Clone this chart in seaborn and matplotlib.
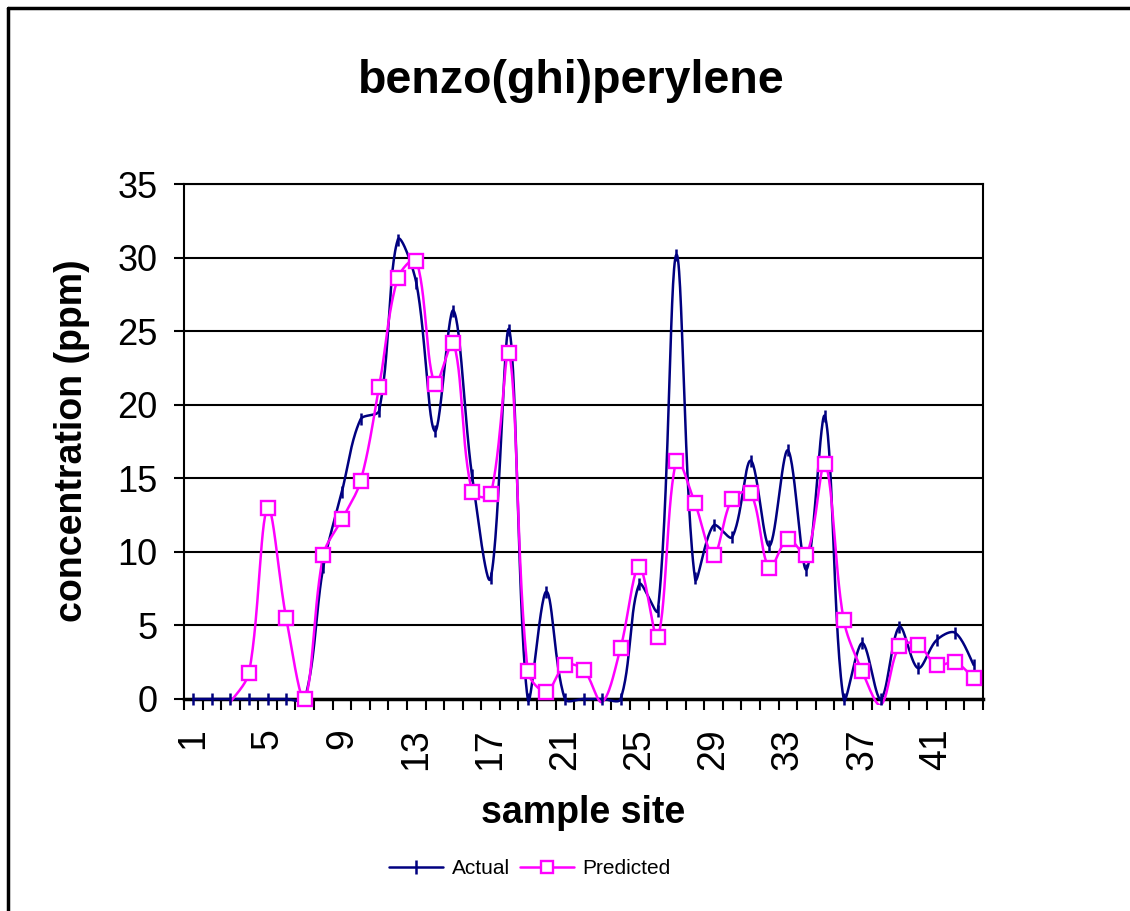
# Actual vs predicted benzo(ghi)perylene per sample site

import numpy as np
import matplotlib
matplotlib.use("Agg")
import matplotlib.pyplot as plt
from matplotlib.lines import Line2D
from matplotlib.patches import Rectangle
import seaborn as sns

sites = list(range(1, 44))
actual = [0, 0, 0, 0, 0, 0, 0, 9.0, 14.1, 19.0, 19.6, 31.2, 28.3, 18.2, 26.4,
          15.2, 8.2, 25.1, 0, 7.3, 0, 0, 0, 0, 7.8, 6.0, 30.2, 8.2, 11.8,
          11.0, 16.2, 10.4, 16.9, 8.8, 19.2, 0, 3.8, 0, 4.9, 2.1, 4.0, 4.5, 2.3]
# first two predictions are not shown on the chart
predicted = [None, None, -0.2, 1.8, 13.0, 5.5, 0, 9.8, 12.2, 14.8, 21.2, 28.6,
             29.8, 21.4, 24.2, 14.1, 13.9, 23.5, 1.9, 0.5, 2.3, 2.0, -0.2, 3.5,
             9.0, 4.2, 16.2, 13.3, 9.8, 13.6, 14.0, 8.9, 10.9, 9.8, 16.0, 5.4,
             1.9, -0.4, 3.6, 3.7, 2.3, 2.5, 1.4]
tick_sites = list(range(1, 44, 4))

NAVY = "#000080"
MAGENTA = "#FF00FF"


# Excel style smoothed line: bezier through the points, control arms scaled
# by the neighbouring segment lengths (in screen units) to limit overshoot
def smooth(x, y, sx=18.58, sy=14.71, steps=30):
    pts = [(a, b) for a, b in zip(x, y) if b is not None]
    P = np.array([[p[0] * sx, p[1] * sy] for p in pts], float)
    n = len(P)
    d = np.linalg.norm(np.diff(P, axis=0), axis=1)
    t = np.linspace(0, 1, steps, endpoint=False)[:, None]
    out = []
    for i in range(n - 1):
        i0, i3 = max(i - 1, 0), min(i + 2, n - 1)
        d01 = d[i - 1] if i > 0 else d[i]
        d23 = d[i + 1] if i + 1 < n - 1 else d[i]
        c1 = P[i] + (P[i + 1] - P[i0]) * d[i] / (d01 + d[i]) / 3
        c2 = P[i + 1] - (P[i3] - P[i]) * d[i] / (d[i] + d23) / 3
        out.append((1 - t) ** 3 * P[i] + 3 * (1 - t) ** 2 * t * c1
                   + 3 * (1 - t) * t ** 2 * c2 + t ** 3 * P[i + 1])
    out.append(P[-1:])
    curve = np.vstack(out)
    return curve[:, 0] / sx, curve[:, 1] / sy


sns.set_style("white")
plt.rcParams["font.family"] = ["Liberation Sans", "DejaVu Sans"]
plt.rcParams["text.color"] = "black"
plt.rcParams["xtick.color"] = "black"
plt.rcParams["ytick.color"] = "black"
plt.rcParams["axes.labelcolor"] = "black"

fig = plt.figure(figsize=(11.3, 9.11), dpi=100)
ax = fig.add_axes([184 / 1130, 1 - 699 / 911, 799 / 1130, 515 / 911])

# lines may run a few pixels under the zero line, like Excel does
clip = Rectangle((0, -0.012), 1, 1.012, transform=ax.transAxes,
                 facecolor="none", edgecolor="none")

cx, cy = smooth(sites, actual)
sns.lineplot(x=cx, y=cy, color=NAVY, linewidth=1.8, sort=False,
             estimator=None, ax=ax, zorder=3)
ax.lines[-1].set_clip_path(clip)
cx, cy = smooth(sites, predicted)
sns.lineplot(x=cx, y=cy, color=MAGENTA, linewidth=1.8, sort=False,
             estimator=None, ax=ax, zorder=4)
ax.lines[-1].set_clip_path(clip)

# markers
sns.lineplot(x=sites, y=actual, linestyle="none", marker="|", markersize=8,
             markeredgewidth=1.8, markeredgecolor=NAVY, color=NAVY, ax=ax,
             zorder=5, clip_on=False)
shown = [(s, v) for s, v in zip(sites, predicted) if v is not None and v >= 0]
sns.lineplot(x=[s for s, v in shown], y=[v for s, v in shown], linestyle="none",
             marker="s", markersize=9.5, markerfacecolor="white",
             markeredgecolor=MAGENTA, markeredgewidth=1.7, color=MAGENTA,
             ax=ax, zorder=6, clip_on=False)

ax.set_xlim(0.5, 43.5)
ax.set_ylim(0, 35)
ax.set_yticks(range(0, 36, 5))
ax.yaxis.grid(True, color="black", linewidth=1.5)
ax.set_axisbelow(True)
for sp in ax.spines.values():
    sp.set_color("black")
    sp.set_linewidth(1.5)
ax.spines["bottom"].set_linewidth(2.5)

# ticks between categories, labels at every 4th site
ax.set_xticks(np.arange(0.5, 44, 1))
ax.set_xticklabels([])
ax.set_xticks(tick_sites, minor=True)
ax.set_xticklabels([str(s) for s in tick_sites], minor=True, rotation=90,
                   fontsize=27)
ax.tick_params(axis="x", which="major", direction="out", length=8, width=1.5,
               color="black", bottom=True)
ax.tick_params(axis="x", which="minor", length=0, pad=21, bottom=True)
ax.tick_params(axis="y", direction="out", length=7, width=1.5, color="black",
               labelsize=26, pad=12, left=True)
ax.set_xlabel("")
ax.set_ylabel("")

fig.text(571 / 1130, 1 - 81 / 911, "benzo(ghi)perylene", fontsize=33.5,
         fontweight="bold", ha="center", va="center")
fig.text(72 / 1130, 1 - 441 / 911, "concentration (ppm)", fontsize=27,
         fontweight="bold", ha="center", va="center", rotation=90)
fig.text(583 / 1130, 1 - 813 / 911, "sample site", fontsize=27,
         fontweight="bold", ha="center", va="center")

handles = [
    Line2D([], [], color=NAVY, linewidth=1.8, marker="|", markersize=10,
           markeredgewidth=1.8),
    Line2D([], [], color=MAGENTA, linewidth=1.8, marker="s", markersize=8.5,
           markerfacecolor="white", markeredgewidth=1.7),
]
fig.legend(handles, ["Actual", "Predicted"], loc="center",
           bbox_to_anchor=(530 / 1130, 1 - 869 / 911), ncol=2, frameon=False,
           fontsize=15, handlelength=2.6, handletextpad=0.4, columnspacing=0.5)

# chart area border (left and top only visible)
fig.add_artist(Line2D([8 / 1130, 8 / 1130], [0, 1 - 8 / 911], color="black",
                      linewidth=2.5, transform=fig.transFigure))
fig.add_artist(Line2D([8 / 1130, 1], [1 - 8 / 911, 1 - 8 / 911], color="black",
                      linewidth=2.5, transform=fig.transFigure))

fig.savefig("out.png", dpi=100, facecolor="white")
